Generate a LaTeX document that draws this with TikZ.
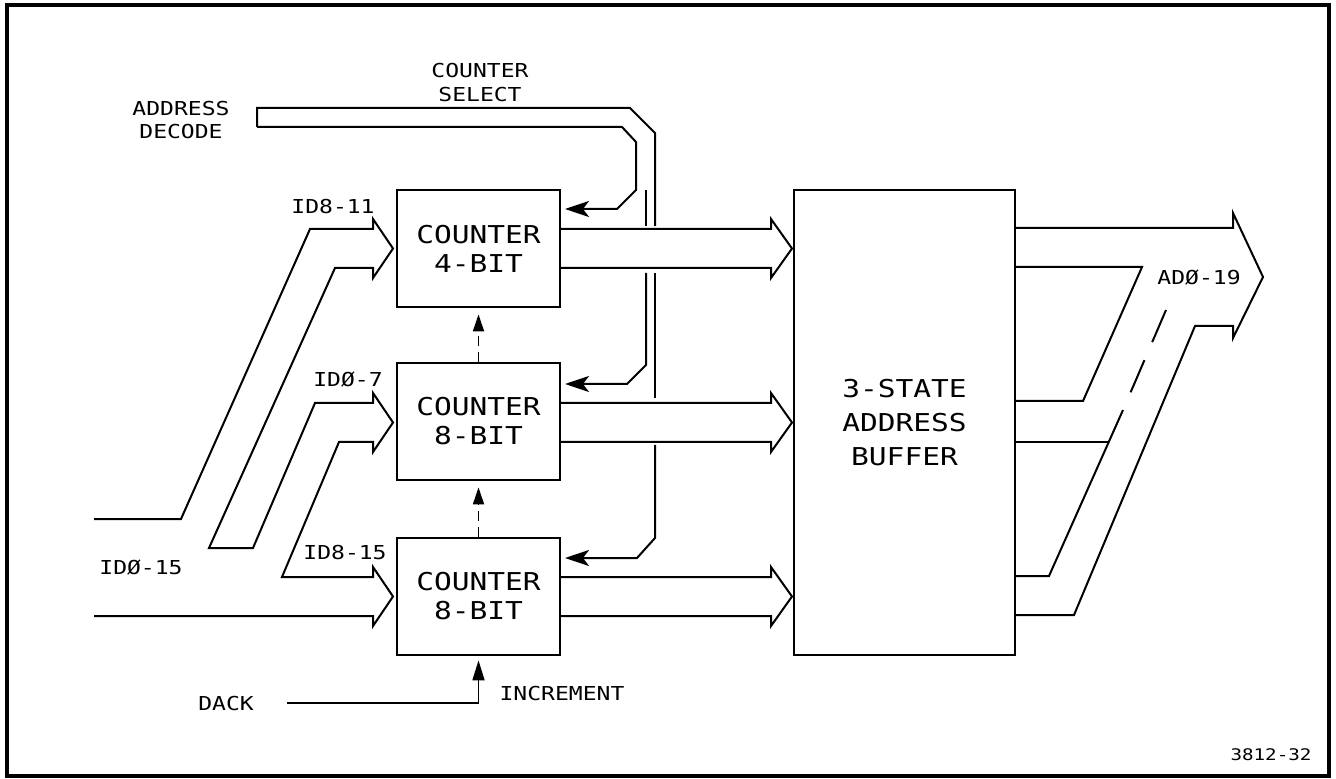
\documentclass[tikz,border=0pt]{standalone}
\usepackage{fontspec}
\newfontfamily\plotfont{DejaVu Sans Mono}[FakeStretch=1.2]
\usetikzlibrary{arrows.meta,calc}
\newcommand\boxfont{\plotfont\fontsize{12.3}{14.5}\selectfont}
\newcommand\buffont{\plotfont\fontsize{12.3}{17}\selectfont}
\newcommand\lblfont{\plotfont\fontsize{9.6}{11.8}\selectfont}
\newcommand\smallfont{\plotfont\fontsize{8}{10}\selectfont}
\tikzset{
  ctr/.style={draw, line width=1.4pt, minimum width=81.5pt, minimum height=58.5pt, inner sep=0pt, align=center, font=\boxfont},
  buf/.style={draw, line width=1.4pt, minimum width=110.5pt, minimum height=232.5pt, inner sep=0pt, align=center, font=\buffont},
  bus/.style={line width=1pt, line join=miter},
  sel/.style={line width=1pt, line join=miter, -{Stealth[length=12pt,width=8pt,inset=3pt]}},
  carry/.style={line width=0.9pt, dash pattern=on 5pt off 3pt, -{Triangle[length=8.5pt,width=5.5pt]}},
  incr/.style={line width=0.9pt, -{Triangle[length=10pt,width=6pt]}},
  lbl/.style={font=\lblfont, inner sep=0pt, align=center},
}
\begin{document}
\begin{tikzpicture}[x=0.5pt,y=-0.5pt]
\fill[white] (0,0) rectangle (1336,779);
\useasboundingbox (0,0) rectangle (1336,779);
\draw[line width=1.6pt] (7,5) rectangle (1329,776);

% blocks
\node[ctr] (c1) at (478.5,248.5) {COUNTER\\4-BIT};
\node[ctr] (c2) at (478.5,421.5) {COUNTER\\8-BIT};
\node[ctr] (c3) at (478.5,596.5) {COUNTER\\8-BIT};
\node[buf] (buf) at (904.5,422.5) {3-STATE\\ADDRESS\\BUFFER};

% labels
\node[lbl, text depth=0pt] (ad) at (181,120) {ADDRESS\\DECODE};
\node[lbl] (cs) at (480,82.5) {COUNTER\\SELECT};
\node[lbl] (l1) at (333,207) {ID8-11};
\node[lbl] (l2) at (348,380) {IDØ-7};
\node[lbl] (l3) at (345,553) {ID8-15};
\node[lbl] (l4) at (141,568) {IDØ-15};
\node[lbl] (dack) at (226,704) {DACK};
\node[lbl] (inc) at (562,694) {INCREMENT};
\node[lbl] (ad19) at (1199,278) {ADØ-19};
\node[font=\smallfont, inner sep=0pt] (fig) at (1271,755) {3812-32};

% input bus ID0-15
\draw[bus] (94,519) -- (181,519) -- (310,229) -- (373,229) -- (373,219) -- (393,248.5) -- (373,278) -- (373,268) -- (335,268)
  -- (209,548) -- (253,548) -- (315,403) -- (373,403) -- (373,393) -- (393,422.5) -- (373,452) -- (373,442) -- (339,442)
  -- (282,577) -- (373,577) -- (373,567) -- (393,596.5) -- (373,626) -- (373,616) -- (94,616);

% counter output buses
\foreach \r in {248.5,422.5,596.5}{
  \draw[bus] (560,\r-19.5) -- (771,\r-19.5) -- (771,\r-29.5) -- (792,\r) -- (771,\r+29.5) -- (771,\r+19.5) -- (560,\r+19.5);
}

% counter select bus
\draw[bus] (257,127) -- (257,108) -- (630,108) -- (655,133) -- (655,226);
\draw[bus] (655,273) -- (655,398);
\draw[sel] (655,445) -- (655,538) -- (637,558) -- (565,558);
\draw[sel] (257,127) -- (622,127) -- (636,142) -- (636,190) -- (617,209) -- (565,209);
\draw[bus] (646,190) -- (646,226);
\draw[sel] (646,273) -- (646,365) -- (627,384) -- (565,384);

% carry / increment
\draw[carry, shorten >=3pt] (c2.north) -- (c1.south);
\draw[carry, shorten >=3pt] (c3.north) -- (c2.south);
\draw[incr, shorten >=2pt] (287,703) -| (c3.south);

% output bus AD0-19
\draw[bus] (1015,228) -- (1233,228) -- (1233,213) -- (1263,277) -- (1233,338) -- (1233,326) -- (1195,326) -- (1074,615) -- (1015,615);
\draw[bus] (1015,267) -- (1142,267) -- (1083,401) -- (1015,401);
\draw[bus] (1015,442) -- (1109,442);
\draw[bus] (1123,410) -- (1049,576) -- (1015,576);
\draw[bus, dash pattern=on 17.5pt off 9.8pt] (1166,310) -- (1123,410);
\end{tikzpicture}
\end{document}
